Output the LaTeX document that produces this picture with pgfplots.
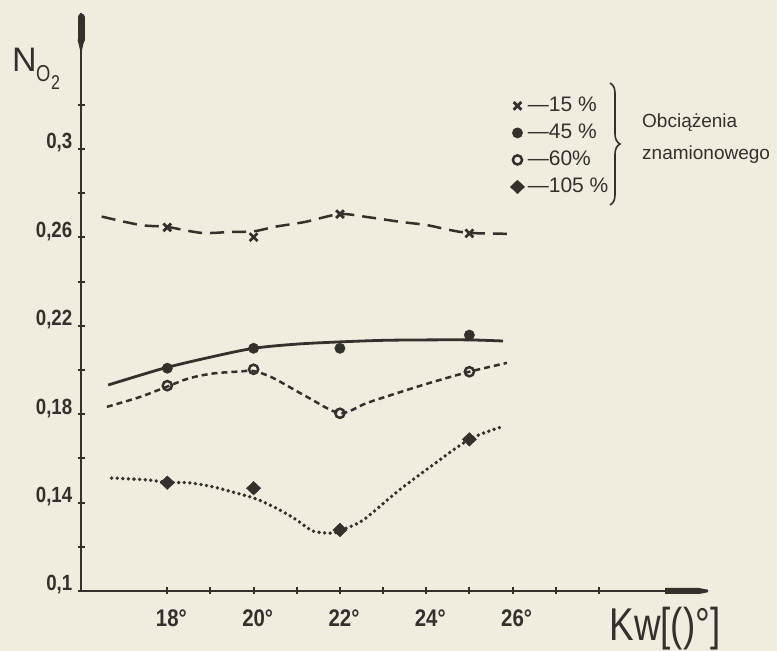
\documentclass[border=0pt]{standalone}
\usepackage{fontspec}
\setmainfont{Liberation Sans}
\newfontfamily\tickfont[FakeStretch=0.85]{Liberation Sans}
\newfontfamily\labfont[FakeStretch=0.8]{Liberation Sans}
\usepackage{pgfplots}
\pgfplotsset{compat=1.18}
\usetikzlibrary{decorations.pathreplacing}
\definecolor{bg}{RGB}{241,237,222}
\definecolor{ink}{RGB}{52,48,44}

\begin{document}
\begin{tikzpicture}[x=1pt,y=1pt]
\useasboundingbox (0,0) rectangle (777,651);
\fill[bg] (0,0) rectangle (777,651);
\begin{axis}[
  at={(81pt,60pt)}, anchor=south west,
  scale only axis, width=627pt, height=578pt,
  xmin=16, xmax=30.53, ymin=0.1, ymax=0.3615,
  clip=false,
  axis lines=left,
  axis line style={-, line width=2.3pt, ink},
  tick align=center, major tick length=7pt,
  tick style={line width=2pt, ink},
  xtick={18,19,20,21,22,23,24,25,26,27,28},
  xticklabels={{18\rlap{°}},{},{20\rlap{°}},{},{22\rlap{°}},{},{24\rlap{°}},{},{26\rlap{°}},{},{}},
  xticklabel style={font=\tickfont\bfseries\fontsize{24}{24}\selectfont, text=ink, inner sep=0pt, anchor=north, yshift=-15pt},
  ytick={0.1,0.12,0.14,0.16,0.18,0.2,0.22,0.24,0.26,0.28,0.3,0.32},
  yticklabels={{0,1},{},{0,14},{},{0,18},{},{0,22},{},{0,26},{},{0,3},{}},
  yticklabel style={font=\tickfont\bfseries\fontsize{22}{22}\selectfont, text=ink, inner sep=0pt, anchor=east, xshift=-5pt, yshift=6pt},
  legend style={draw=none, fill=none, at={(axis description cs:0.684,0.856)}, anchor=north west,
    inner sep=0pt, row sep=8pt, font=\fontsize{21}{21}\selectfont, text=ink,
    nodes={inner sep=1pt, text height=14pt, text depth=3pt}},
  legend cell align=left,
  legend image code/.code={\path (-6pt,0pt) (8pt,0pt); \draw[#1] plot coordinates {(0pt,0pt)};},
]
% 15 % : dashed line and crosses
\addplot[ink, line width=2.5pt, dash pattern=on 14pt off 8pt, smooth, tension=0.5, forget plot] coordinates {
 (16.48,0.2694) (17.37,0.2656) (18,0.2647) (18.8,0.2620) (19.5,0.2625) (20,0.2627) (20.5,0.2648)
 (21.2,0.2670) (22,0.2705) (22.7,0.2690) (23.4,0.2670) (24,0.2656) (24.55,0.2633) (25,0.2620) (25.87,0.2616)};
\addplot[ink, only marks, mark=x, mark size=5.5pt, line width=2.8pt] coordinates {
 (18,0.2645) (20,0.2601) (22,0.2705) (25,0.2618)};
\addlegendentry{—15 \%}
% 45 % : solid line and filled circles
\addplot[ink, line width=2.8pt, smooth, tension=0.5, forget plot] coordinates {
 (16.63,0.1932) (17.3,0.1972) (18,0.2012) (19,0.2058) (20,0.2098) (21,0.2117) (22,0.2127)
 (23,0.2134) (24,0.2136) (25,0.2136) (25.78,0.2131)};
\addplot[ink, only marks, mark=*, mark size=5.2pt] coordinates {
 (18,0.2008) (20,0.2098) (22,0.2098) (25,0.2158)};
\addlegendentry{—45 \%}
% 60 % : short dashes and open circles
\addplot[ink, line width=2.5pt, dash pattern=on 6pt off 4pt, smooth, tension=0.5, forget plot] coordinates {
 (16.6,0.1833) (17.37,0.1878) (18,0.1925) (18.5,0.1962) (19.06,0.1984) (19.68,0.1993) (20,0.1995)
 (20.45,0.1964) (21.24,0.1878) (22,0.1805) (22.63,0.1851) (23.4,0.1900) (24.16,0.1946) (25,0.1992) (25.87,0.2032)};
\addplot[ink, only marks, mark=o, mark size=4.6pt, line width=2.5pt, fill=bg] coordinates {
 (18,0.1929) (20,0.2003) (22,0.1804) (25,0.1992)};
\addlegendentry{—60\%}
% 105 % : dotted line and filled diamonds
\addplot[ink, line width=3.8pt, line cap=round, dash pattern=on 0pt off 5.6pt, smooth, tension=0.5, forget plot] coordinates {
 (16.71,0.1511) (17.5,0.1503) (18,0.1492) (18.53,0.1489) (19.06,0.1471) (19.6,0.1443) (20.07,0.1416)
 (20.6,0.1367) (21,0.1321) (21.38,0.1271) (21.84,0.1262) (22.04,0.1276) (22.54,0.1321) (23.32,0.1448)
 (24.09,0.1561) (25,0.1686) (25.75,0.1743)};
\addplot[ink, only marks, mark=diamond*, mark size=6.8pt, mark options={xscale=1.4}] coordinates {
 (18,0.1490) (20,0.1465) (22,0.1276) (25,0.1686)};
\addlegendentry{—105 \%}
\end{axis}
% axis tips (picture coordinates: axis origin at (81,60))
\draw[ink, line width=7pt, line cap=round] (81,634) -- (81,611);
\fill[ink] (77.5,611.5) -- (84.5,611.5) -- (81,597) -- cycle;
\fill[ink] (665,63) -- (699,63) -- (708,61.2) -- (708,58.8) -- (699,57) -- (665,57) -- cycle;
% axis labels
\node[anchor=base west, inner sep=0pt, text=ink] at (12,579) {\fontsize{34}{34}\selectfont N};
\node[anchor=base west, inner sep=0pt, text=ink] at (36,569) {\labfont\fontsize{23}{23}\selectfont O};
\node[anchor=base west, inner sep=0pt, text=ink] at (51,561) {\labfont\fontsize{20}{20}\selectfont 2};
\node[anchor=base, inner sep=0pt, text=ink] at (665,10) {\labfont\fontsize{46}{46}\selectfont Kw[()°]};
% legend brace and caption
\draw[ink, line width=1.6pt, decorate, decoration={brace, amplitude=10pt}] (610,568) -- (610,446);
\node[anchor=base west, inner sep=0pt, text=ink] at (642,523) {\fontsize{19}{19}\selectfont Obciążenia};
\node[anchor=base west, inner sep=0pt, text=ink] at (642,491) {\fontsize{19}{19}\selectfont znamionowego};
\end{tikzpicture}
\end{document}
